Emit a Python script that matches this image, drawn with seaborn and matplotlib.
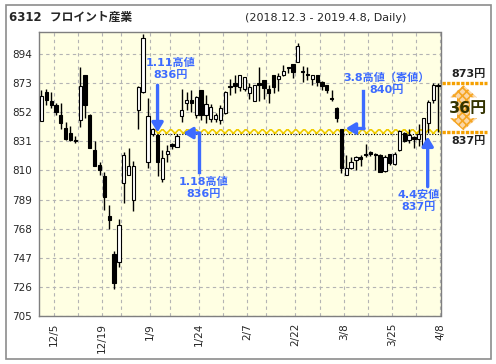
import matplotlib
matplotlib.use("Agg")
import matplotlib.pyplot as plt
import matplotlib.transforms as mtransforms
from matplotlib.patches import Rectangle, Polygon
import pandas as pd
import seaborn as sns

# daily candles 2018.12.3 - 2019.4.8
dates = ['12/3', '12/4', '12/5', '12/6', '12/7', '12/10', '12/11', '12/12', '12/13', '12/14',
         '12/17', '12/18', '12/19', '12/20', '12/21', '12/25', '12/26', '12/27', '12/28',
         '1/4', '1/7', '1/8', '1/9', '1/10', '1/11', '1/15', '1/16', '1/17', '1/18',
         '1/21', '1/22', '1/23', '1/24', '1/25', '1/28', '1/29', '1/30', '1/31',
         '2/1', '2/4', '2/5', '2/6', '2/7', '2/8', '2/12', '2/13', '2/14', '2/15',
         '2/18', '2/19', '2/20', '2/21', '2/22', '2/25', '2/26', '2/27', '2/28',
         '3/1', '3/4', '3/5', '3/6', '3/7', '3/8', '3/11', '3/12', '3/13', '3/14', '3/15',
         '3/18', '3/19', '3/20', '3/22', '3/25', '3/26', '3/27', '3/28', '3/29',
         '4/1', '4/2', '4/3', '4/4', '4/5', '4/8']
opens = [846, 866.7, 860.2, 857.3, 850, 840.7, 837, 832.2, 846.2, 879,
         850, 824.6, 814, 806, 777.2, 749.7, 743.7, 800.7, 806.5, 788.5,
         853.7, 866.9, 816.4, 836.4, 835.5, 803.6, 821.7, 829, 826.7, 849.3,
         859, 860.9, 850, 868.1, 850, 847, 847, 846.5, 851.3, 870.5,
         873, 870, 868.6, 865.7, 860.2, 873.4, 875.3, 868.6, 878.9, 875.8,
         878.9, 884.5, 886.9, 888.5, 881.6, 879, 875.8, 878.9, 874.1, 871.7,
         862.6, 855.3, 840, 806.8, 811.5, 817.5, 820, 822, 823.5, 822,
         821.5, 809.3, 821.7, 814.5, 825, 837, 832, 834.5, 832.5, 826.7,
         844.5, 861, 872]
highs = [868, 868.6, 866.7, 859, 858.5, 845, 842, 834.9, 884.4, 879.2,
         850.5, 831.3, 816.4, 809.2, 785.1, 751.9, 775, 823.4, 826.2, 817,
         871, 908.5, 862, 841, 836, 824.8, 828.4, 830, 836, 868.6,
         866.9, 868.1, 864, 868.1, 864.5, 858, 851.7, 857.3, 867, 875.8,
         879, 879, 877.7, 873, 871.7, 884.9, 875.3, 871.7, 879, 880.6,
         886, 885, 887, 901.8, 885.4, 884.4, 879, 879, 874.5, 872,
         868.1, 855.5, 840, 821, 820, 820.5, 821, 829, 824, 822.5,
         822, 821, 822, 823, 839.5, 837.5, 840, 835, 843.5, 848,
         861, 873, 873]
lows = [846, 857.3, 855.3, 850, 840.2, 832, 831.3, 829.6, 841.2, 847.7,
        826, 813, 806.8, 781.3, 767.5, 724.2, 740.1, 786.3, 806.5, 781,
        840.2, 866, 811.6, 835, 806, 802, 816.4, 825.5, 826.7, 845.2,
        853.7, 852.5, 847.7, 846.5, 844.5, 845.2, 845.2, 843.7, 851, 864.5,
        865.7, 867, 867, 861.6, 860, 860, 861.4, 858.5, 865.7, 867,
        878, 880, 876.5, 888.5, 874.1, 875.3, 871.7, 871, 868.1, 865.7,
        860.4, 845, 808, 806.8, 811, 810.5, 813, 819.5, 820.5, 810,
        809, 809, 814, 814, 824, 830.5, 830, 826.5, 827.5, 826.5,
        837, 859, 838]
closes = [863.5, 861, 857.5, 852.5, 844.5, 833, 832, 831.2, 870.7, 857.5,
          826.5, 813.5, 810, 790.6, 774.5, 728.6, 770.4, 821, 813.3, 813.3,
          870.5, 905.4, 849.6, 840.2, 816.4, 818.8, 824.2, 828, 834.9, 853.7,
          860.9, 858.5, 863.3, 850, 858, 855.6, 850, 854.9, 866.7, 870,
          871, 878.9, 877.7, 870, 871.7, 871.7, 869.3, 866.2, 870.5, 878.4,
          882, 883.7, 881.3, 900.1, 881, 878.7, 878.9, 874.1, 871, 868.1,
          861.4, 847.6, 811.6, 811.6, 816, 819.5, 818.5, 821.5, 822, 821,
          809, 819.4, 815.7, 822, 838.5, 831.5, 835.5, 832.5, 836.5, 847.7,
          859.7, 872, 871]

yticks = [705, 726, 747, 768, 789, 810, 831, 852, 873, 894]
xtick_labels = ['12/5', '12/19', '1/9', '1/24', '2/7', '2/22', '3/8', '3/25', '4/8']
grid_labels = ['12/12', '12/26', '1/16', '1/31', '2/14', '3/1', '3/15', '4/1']

# annotated levels
band_low, band_high = 836, 840
range_high, range_low = 873, 837

sns.set_style("white")
plt.rcParams['font.family'] = ['DejaVu Sans', 'Noto Sans CJK JP']
plt.rcParams['hatch.linewidth'] = 1.2

df = pd.DataFrame({'date': dates, 'open': opens, 'high': highs, 'low': lows, 'close': closes})
df['x'] = range(len(df))
df['up'] = df['close'] >= df['open']
df['bottom'] = df[['open', 'close']].min(axis=1)
df['body'] = (df['close'] - df['open']).abs().clip(lower=0.6)

blue = '#3D6BFF'
orange = '#F5A000'

fig = plt.figure(figsize=(4.96, 3.64), dpi=100)
side = fig.add_axes([0, 0, 1, 1], zorder=0)
side.set_xlim(0, 496)
side.set_ylim(364, 0)
side.set_autoscale_on(False)
side.axis('off')

ax = fig.add_axes([39.3 / 496, 1 - 316 / 364, 401.2 / 496, 283.7 / 364], zorder=1)
ax.set_facecolor('#FFFFE3')

# resistance band
ax.fill_between([23.3, 82.6], band_low, band_high, facecolor='none', edgecolor='#F0CC00',
                hatch='xxxx', linewidth=0, zorder=1.5)
ax.plot([23.3, 82.6], [band_low, band_low], color='black', lw=0.8, ls=(0, (1, 1.5)), zorder=1.6)

# candles
ax.vlines(df['x'], df['low'], df['high'], color='black', lw=1, zorder=2)
ax.bar(df['x'], df['body'], bottom=df['bottom'], width=0.68,
       color=['white' if u else 'black' for u in df['up']],
       edgecolor='black', linewidth=0.8, zorder=3)

ax.set_xlim(-0.45, 82.5)
ax.set_ylim(705, 909.7)
ax.set_yticks(yticks)
ax.set_yticklabels([str(v) for v in yticks])
ax.set_xticks([dates.index(d) + 0.5 for d in xtick_labels])
ax.set_xticklabels(xtick_labels, rotation=90)
ax.set_xticks([dates.index(d) + 0.5 for d in grid_labels], minor=True)
ax.tick_params(axis='both', which='both', labelsize=7.5, length=3, color='#808080', pad=2)
ax.grid(True, which='both', axis='x', color='#B4B4B4', lw=0.8, ls=(0, (3, 3)))
ax.grid(True, which='major', axis='y', color='#B4B4B4', lw=0.8, ls=(0, (3, 3)))
ax.set_axisbelow(True)
for s in ax.spines.values():
    s.set_color('#7F7F7F')
    s.set_linewidth(1)

# blue call-outs
head = '-|>,head_length=0.55,head_width=0.33'
kw = dict(arrowstyle=head, color=blue, lw=2.4, shrinkA=0, shrinkB=0, mutation_scale=10)
tkw = dict(color=blue, fontsize=8, fontweight='bold', ha='center', va='center', linespacing=1.25, zorder=6)

ax.annotate('', xy=(24, 837.5), xytext=(24, 871.5), arrowprops=kw, zorder=5)
ax.text(26.6, 883.2, '1.11高値\n836円', **tkw)

ax.plot([32.5, 32.5], [809, 837], color=blue, lw=2.4, solid_capstyle='projecting', zorder=5)
ax.annotate('', xy=(29.3, 837), xytext=(32.7, 837), arrowprops=kw, zorder=5)
ax.text(33.5, 797.1, '1.18高値\n836円', **tkw)

ax.plot([66.5, 66.5], [867.3, 840.3], color=blue, lw=2.4, solid_capstyle='projecting', zorder=5)
ax.annotate('', xy=(62.9, 840.3), xytext=(66.7, 840.3), arrowprops=kw, zorder=5)
ax.text(71.3, 872.5, '3.8高値（寄値）\n840円', **tkw)

ax.annotate('', xy=(79.85, 834.5), xytext=(79.85, 798.3), arrowprops=kw, zorder=5)
ax.text(78.0, 787.8, '4.4安値\n837円', **tkw)

# right panel: price range
trans = mtransforms.blended_transform_factory(side.transData, ax.transData)
for lvl in (range_high, range_low + 0.5):
    side.plot([441.5, 487], [lvl, lvl], color=orange, lw=2.4, ls=(0, (1, 0.4)),
              transform=trans, clip_on=False)
top, bot = range_high - 1.5, range_low + 2
cx, hh, hw, sw = 463.5, 8.7, 13.5, 6.5
arrow = Polygon([(cx, top), (cx + hw, top - hh), (cx + sw, top - hh), (cx + sw, bot + hh),
                 (cx + hw, bot + hh), (cx, bot), (cx - hw, bot + hh), (cx - sw, bot + hh),
                 (cx - sw, top - hh), (cx - hw, top - hh)], closed=True,
                facecolor='#FBD7A8', edgecolor='#F5A623', hatch='xxxx', lw=0, transform=trans)
side.add_patch(arrow)
side.text(468.3, (range_high + range_low) / 2, f'{range_high - range_low}円', transform=trans,
          fontsize=11.5, fontweight='bold', color='#333300', ha='center', va='center')
side.text(468.8, range_high + 6.5, f'{range_high}円', transform=trans, fontsize=8,
          fontweight='bold', color='#222222', ha='center', va='center')
side.text(468.8, range_low - 6, f'{range_low}円', transform=trans, fontsize=8,
          fontweight='bold', color='#222222', ha='center', va='center')

# header and frame
side.add_patch(Rectangle((5.7, 5.3), 485.3, 353.7, fill=False, edgecolor='#8C8C8C', lw=1.2))
side.text(9, 17, '6312  フロイント産業', fontsize=8.5, fontweight='bold', ha='left', va='center')
side.text(245, 18.3, '(2018.12.3 - 2019.4.8, Daily)', fontsize=8, ha='left', va='center')

fig.savefig('out.png', dpi=100)
